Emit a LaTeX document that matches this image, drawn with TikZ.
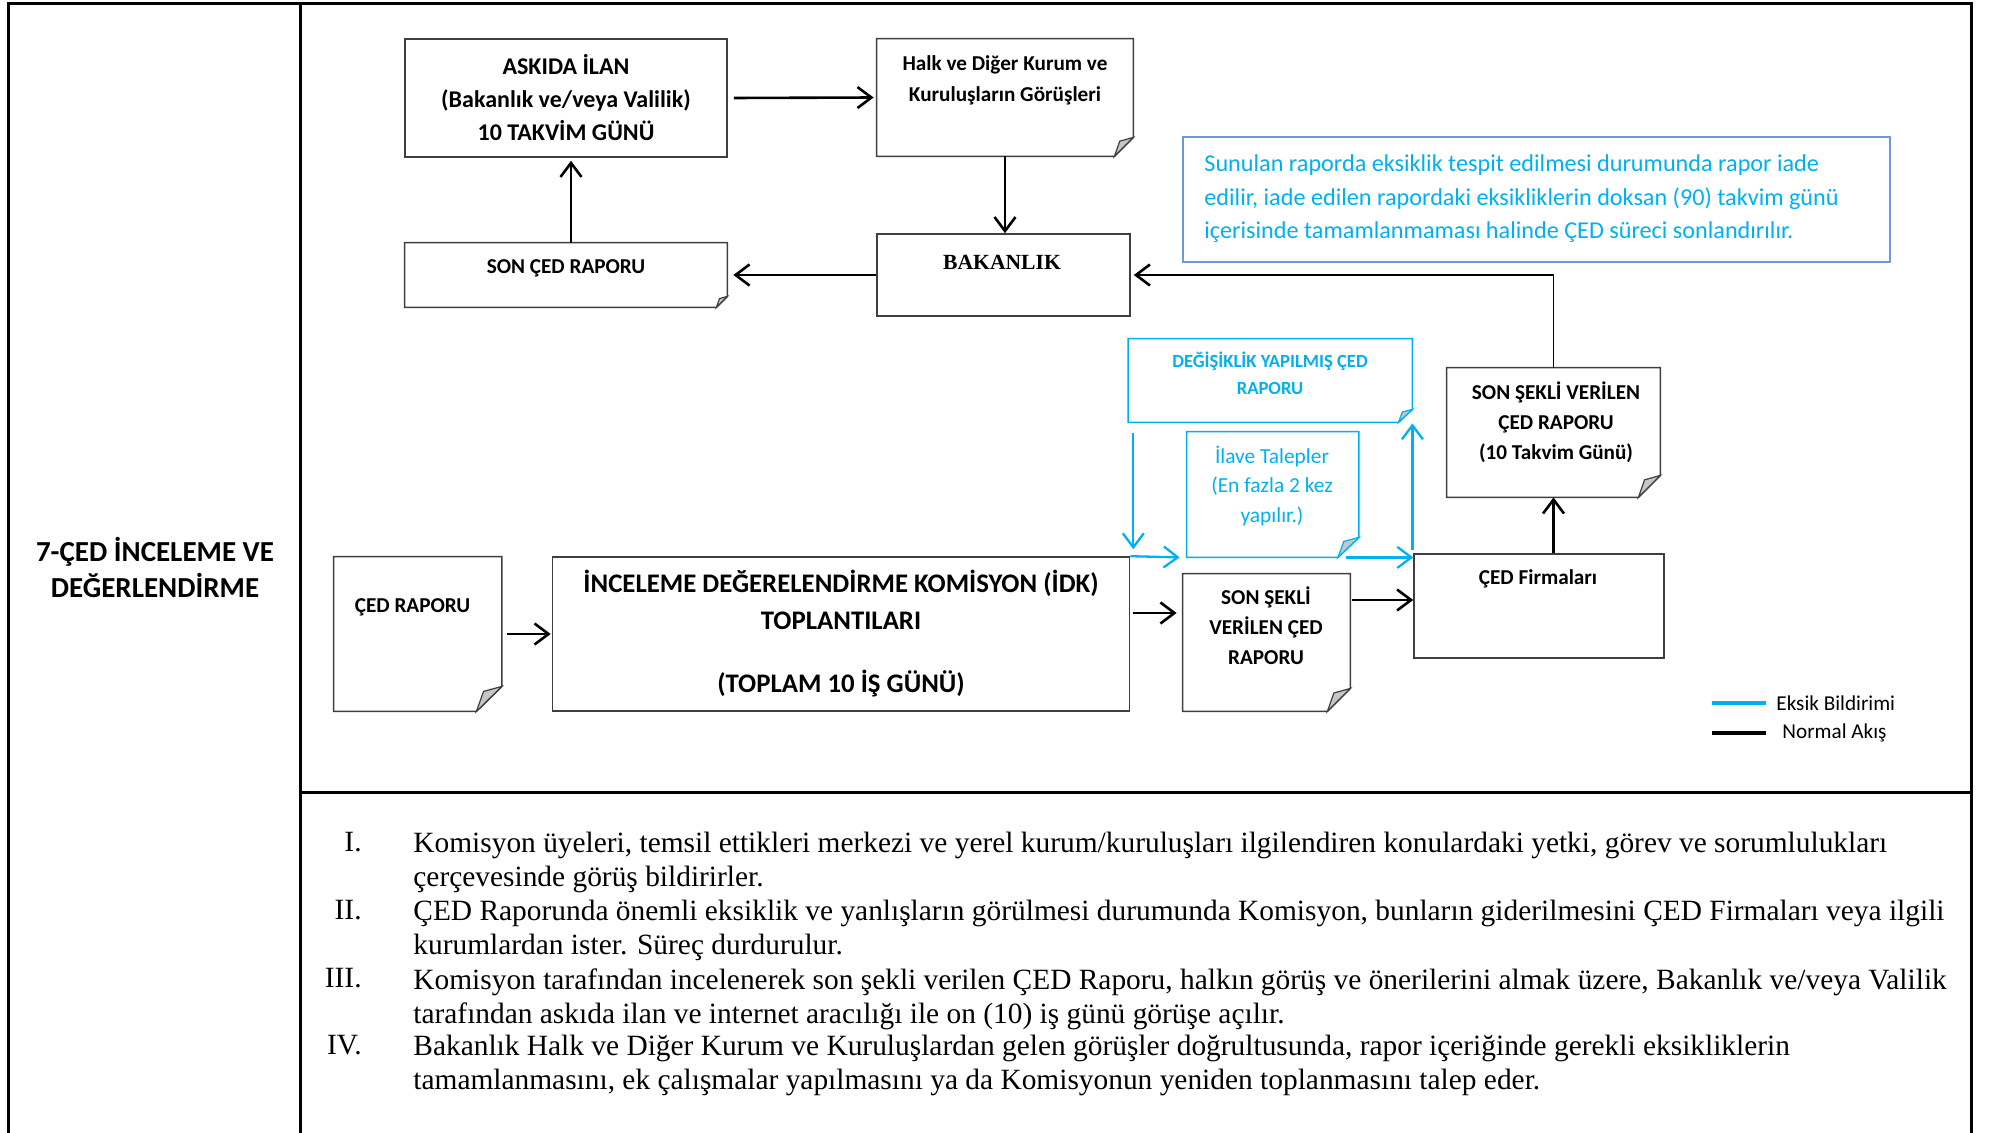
\documentclass[tikz,border=0pt]{standalone}
\usepackage{fontspec}
\setmainfont{Carlito}
\newfontfamily\timesfont{Liberation Serif}
\usetikzlibrary{arrows.meta, calc, positioning}

\definecolor{edgegray}{HTML}{3F3F3F}
\definecolor{foldgray}{HTML}{C6C6C6}
\definecolor{eksikblue}{HTML}{00B0F0}
\definecolor{noteblue}{HTML}{6A9BD8}

\tikzset{
    box/.style={draw=edgegray, line width=0.8pt, inner sep=0pt},
    docbox/.style={inner sep=0pt},
    boxtext/.style={font=\bfseries\fontsize{10.6}{15}\selectfont, align=center, inner sep=0pt},
    flow/.style={line width=1.3pt, -{Straight Barb[length=7pt, width=10.5pt]}},
    eksikflow/.style={flow, draw=eksikblue, line width=1.15pt},
    listtext/.style={font=\timesfont\fontsize{14.7}{17}\selectfont, align=left, inner sep=0pt, anchor=north west},
    listnum/.style={font=\timesfont\fontsize{14.7}{17}\selectfont, inner sep=0pt, anchor=north east},
}

% document outline with a folded corner at the bottom right
\newcommand{\docoutline}[4]{%
    \draw [#4, line width=0.8pt] (#1.north west) -- (#1.north east) -- ($(#1.south east) + (0, -#3)$) -- ($(#1.south east) + (-#2, 0)$) -- (#1.south west) -- cycle;
    \filldraw [fill=foldgray, draw=#4, line width=0.6pt] ($(#1.south east) + (-#2, 0)$) -- ($(#1.south east) + (0, -#3)$) -- ($(#1.south east) + (-0.72*#2, -0.8*#3)$) -- cycle;
}

\begin{document}
\begin{tikzpicture}[x=0.5pt, y=-0.5pt]
    \useasboundingbox (0, 0) rectangle (1995, 1133);
    % table frame
    \draw [line width=1.5pt] (8, 1140) -- (8, 4) -- (1971, 4) -- (1971, 1140);
    \draw [line width=1.5pt] (300, 4) -- (300, 1140);
    \draw [line width=1.5pt] (300, 792) -- (1971, 792);
    \node [font=\bfseries\fontsize{14.5}{18}\selectfont, align=center] (title) at (155, 567) {7-ÇED İNCELEME VE\\DEĞERLENDİRME};

    % upper loop
    \node [box, minimum width=161pt, minimum height=59pt, boxtext, font=\bfseries\fontsize{12}{16.5}\selectfont] (askida) at (566, 98) {ASKIDA İLAN\\(Bakanlık ve/veya Valilik)\\10 TAKVİM GÜNÜ};

    \node [docbox, minimum width=128pt, minimum height=58.5pt] (halk) at (1005, 97.5) {};
    \docoutline{halk}{19}{19}{edgegray}
    \node [boxtext, font=\bfseries\fontsize{10.6}{15.5}\selectfont] (halktext) at (1005, 80) {Halk ve Diğer Kurum ve\\Kuruluşların Görüşleri};

    \node [docbox, minimum width=161pt, minimum height=32pt] (sonced) at (566, 275) {};
    \docoutline{sonced}{11}{11}{edgegray}
    \node [boxtext] (soncedtext) at (566, 268) {SON ÇED RAPORU};

    \node [box, minimum width=126.5pt, minimum height=41pt] (bakanlik) at (1003.5, 275) {};
    \node [font=\timesfont\bfseries\fontsize{10.8}{13}\selectfont] (bakanliktext) at (1002, 262) {BAKANLIK};

    \node [draw=noteblue, line width=1pt, minimum width=353.5pt, minimum height=62.5pt] (note) at (1536.5, 199.5) {};
    \node [anchor=west, align=left, inner sep=0pt, text=eksikblue, font=\fontsize{12.1}{16.75}\selectfont] (notetext) at (1204, 199) {Sunulan raporda eksiklik tespit edilmesi durumunda rapor iade\\edilir, iade edilen rapordaki eksikliklerin doksan (90) takvim günü\\içerisinde tamamlanmaması halinde ÇED süreci sonlandırılır.};

    % revision loop
    \node [docbox, minimum width=141.75pt, minimum height=41.5pt] (degisiklik) at (1270.25, 380.5) {};
    \docoutline{degisiklik}{14}{13}{eksikblue}
    \node [boxtext, text=eksikblue, font=\bfseries\fontsize{9.3}{13.5}\selectfont] (degisikliktext) at (1270, 373.5) {DEĞİŞİKLİK YAPILMIŞ ÇED\\RAPORU};

    \node [docbox, minimum width=85.75pt, minimum height=62.5pt] (ilave) at (1272.75, 494.5) {};
    \docoutline{ilave}{21}{20}{eksikblue}
    \node [boxtext, text=eksikblue, font=\fontsize{10.7}{14.75}\selectfont] (ilavetext) at (1272, 485.5) {İlave Talepler\\(En fazla 2 kez\\yapılır.)};

    \node [docbox, minimum width=106.5pt, minimum height=64.5pt] (sonsekli) at (1553.5, 432.5) {};
    \docoutline{sonsekli}{22}{22}{edgegray}
    \node [boxtext] (sonseklitext) at (1556, 422.5) {SON ŞEKLİ VERİLEN\\ÇED RAPORU\\(10 Takvim Günü)};

    \node [box, minimum width=125pt, minimum height=52pt] (firma) at (1539, 606) {};
    \node [boxtext] (firmatext) at (1538, 579) {ÇED Firmaları};

    \node [docbox, minimum width=83.5pt, minimum height=68.5pt] (verilen) at (1266.5, 642.5) {};
    \docoutline{verilen}{23}{23}{edgegray}
    \node [boxtext] (verilentext) at (1266, 626) {SON ŞEKLİ\\VERİLEN ÇED\\RAPORU};

    % lower row
    \node [docbox, minimum width=83.75pt, minimum height=77pt] (cedrapor) at (417.75, 634) {};
    \docoutline{cedrapor}{25.5}{25}{edgegray}
    \node [boxtext] (cedraportext) at (412.5, 607.5) {ÇED RAPORU};

    \node [box, minimum width=288.5pt, minimum height=77pt, boxtext, font=\bfseries\fontsize{13.4}{18.5}\selectfont] (idk) at (841, 634) {İNCELEME DEĞERELENDİRME KOMİSYON (İDK)\\TOPLANTILARI\\[13pt](TOPLAM 10 İŞ GÜNÜ)};

    % normal flow
    \draw [flow, shorten >=1.5pt] ($(askida.east) + (6, 0)$) -- (halk.west);
    \draw [flow, shorten >=1.5pt] ($(sonced.north) + (5, 0)$) -- ($(askida.south) + (5, 0)$);
    \draw [flow] (halk.south) -- (halk.south |- bakanlik.north);
    \draw [flow] (bakanlik.west) -- ($(sonced.east) + (6, 0)$);
    \coordinate (bend) at (sonsekli.north |- bakanlik.east);
    \draw [line width=0.6pt] (sonsekli.north) -- (bend);
    \draw [flow] (bend) -- ($(bakanlik.east) + (3, 0)$);
    \draw [flow] (firma.north -| sonsekli.south) -- (sonsekli.south);
    \draw [flow] ($(verilen.east |- firma.west) + (2, -6)$) -- ($(firma.west) + (0, -6)$);
    \draw [flow] ($(idk.east) + (3, -21)$) -- ($(verilen.west |- idk.east) + (-6, -21)$);
    \draw [flow] ($(cedrapor.east) + (5, 0)$) -- ($(idk.west) + (-1, 0)$);

    % eksik bildirimi
    \draw [eksikflow] ($(idk.north east |- degisiklik.south) + (3, 11)$) -- ($(idk.north east) + (3, -7)$);
    \draw [eksikflow] (idk.north east) -- ($(ilave.south west) + (-7, 0)$);
    \draw [eksikflow] ($(ilave.south east) + (-13, 0)$) -- (ilave.south -| firma.west);
    \draw [eksikflow] ($(degisiklik.south east |- ilave.south) + (0, -7)$) -- ($(degisiklik.south east) + (0, 1)$);

    % legend
    \node [anchor=west, inner sep=0pt, font=\fontsize{10.6}{13}\selectfont] (eksiklegend) at (1776, 703) {Eksik Bildirimi};
    \node [anchor=west, inner sep=0pt, font=\fontsize{10.6}{13}\selectfont] (normallegend) at (1782, 733) {Normal Akış};
    \draw [eksikblue, line width=2pt] ($(eksiklegend.west) + (-64, 0)$) -- ($(eksiklegend.west) + (-10, 0)$);
    \draw [line width=2pt] ($(normallegend.west) + (-70, 0)$) -- ($(normallegend.west) + (-16, 0)$);

    % explanations
    \node [listnum] (num1) at (362, 832) {I.};
    \node [listtext] (item1) at (413, 832) {Komisyon üyeleri, temsil ettikleri merkezi ve yerel kurum/kuruluşları ilgilendiren konulardaki yetki, görev ve sorumlulukları\\çerçevesinde görüş bildirirler.};
    \node [listnum] (num2) at (362, 900) {II.};
    \node [listtext] (item2) at (413, 900) {ÇED Raporunda önemli eksiklik ve yanlışların görülmesi durumunda Komisyon, bunların giderilmesini ÇED Firmaları veya ilgili\\kurumlardan ister. Süreç durdurulur.};
    \node [listnum] (num3) at (362, 968) {III.};
    \node [listtext] (item3) at (413, 968) {Komisyon tarafından incelenerek son şekli verilen ÇED Raporu, halkın görüş ve önerilerini almak üzere, Bakanlık ve/veya Valilik\\tarafından askıda ilan ve internet aracılığı ile on (10) iş günü görüşe açılır.};
    \node [listnum] (num4) at (362, 1035) {IV.};
    \node [listtext] (item4) at (413, 1035) {Bakanlık Halk ve Diğer Kurum ve Kuruluşlardan gelen görüşler doğrultusunda, rapor içeriğinde gerekli eksikliklerin\\tamamlanmasını, ek çalışmalar yapılmasını ya da Komisyonun yeniden toplanmasını talep eder.};
\end{tikzpicture}
\end{document}
